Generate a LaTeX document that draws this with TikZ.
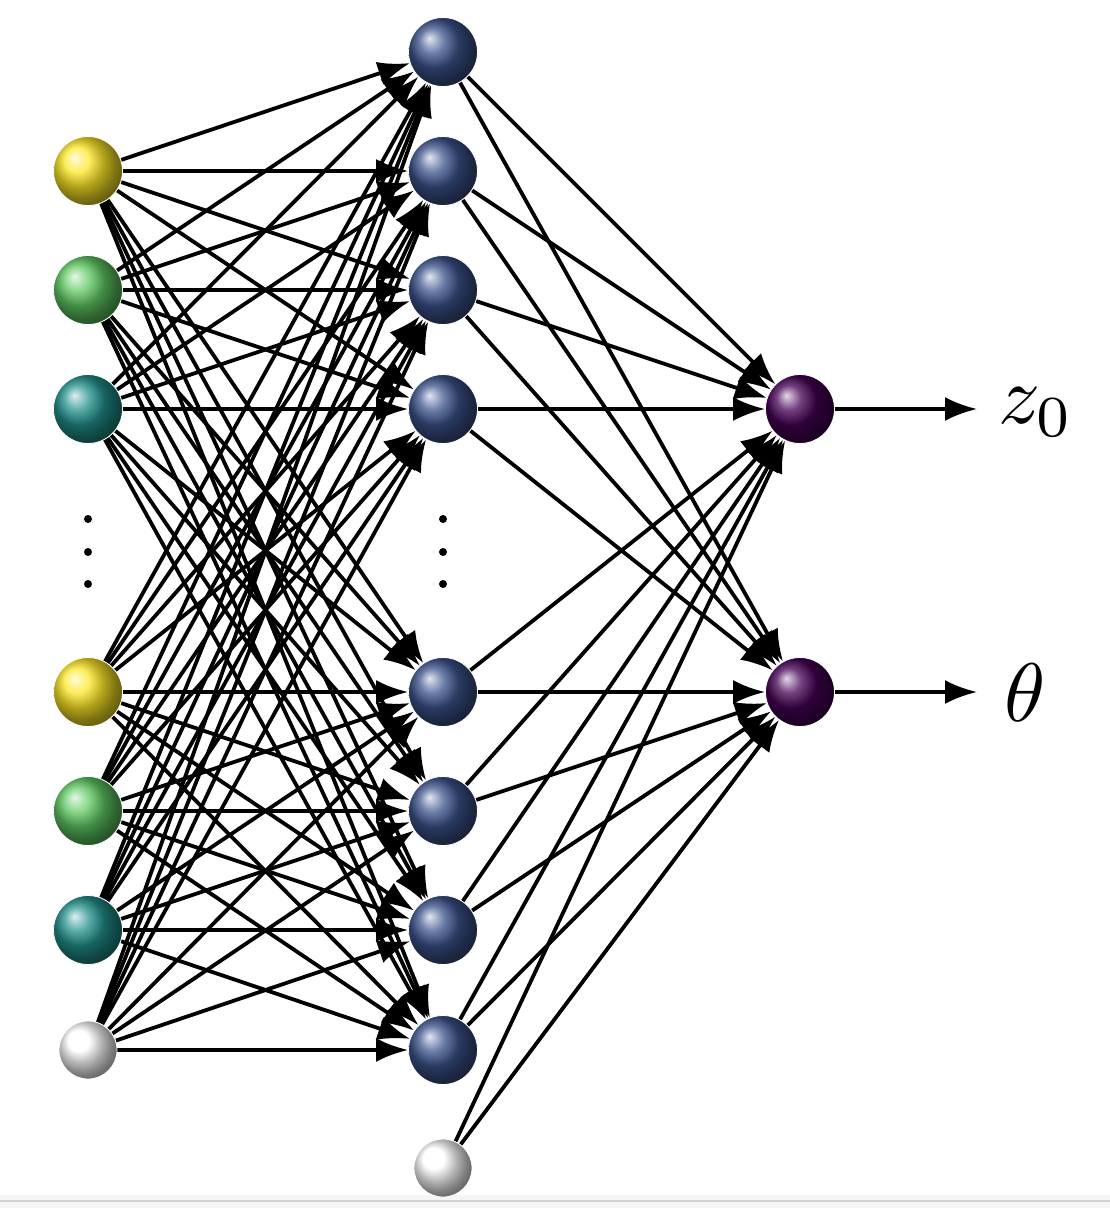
\documentclass[tikz,border=0pt]{standalone}
\usetikzlibrary{arrows.meta,shadings}
\pgfdeclarelayer{background}
\pgfsetlayers{background,main}
\definecolor{vyellow}{HTML}{FDE725}
\definecolor{vgreen}{HTML}{5EC962}
\definecolor{vteal}{HTML}{21918C}
\definecolor{vnavy}{HTML}{3B528B}
\definecolor{vpurple}{HTML}{440154}
\tikzset{
  neuron/.style={circle, minimum size=69pt, inner sep=0pt, draw=white, line width=0.8pt},
  biasnode/.style={circle, minimum size=58pt, inner sep=0pt, draw=white, line width=0.8pt, ball color=white},
  conn/.style={line width=3.8pt, -{Latex[length=32pt,width=24pt]}},
  outarrow/.style={line width=3.6pt, -{Latex[length=32pt,width=24pt]}},
  vdot/.style={circle, fill=black, minimum size=8pt, inner sep=0pt},
  lab/.style={scale=8.3, inner sep=0pt}
}
\begin{document}
\begin{tikzpicture}[x=1pt,y=-1pt]
\useasboundingbox (0,0) rectangle (1110,1208);
\fill[gray!8] (0,1195) rectangle (1110,1208);
\draw[gray!35, line width=1.5pt] (0,1201) -- (1110,1201);
% input layer
\node[neuron, ball color=vyellow] (in1) at (88,171) {};
\node[neuron, ball color=vgreen]  (in2) at (88,290) {};
\node[neuron, ball color=vteal]   (in3) at (88,409) {};
\node[neuron, ball color=vyellow] (in4) at (88,692) {};
\node[neuron, ball color=vgreen]  (in5) at (88,811) {};
\node[neuron, ball color=vteal]   (in6) at (88,930) {};
\node[biasnode] (in7) at (88,1050) {};
\node[vdot] (id1) at (88,519) {};
\node[vdot] (id2) at (88,552) {};
\node[vdot] (id3) at (88,584) {};
% hidden layer
\foreach \n/\y in {1/52,2/171,3/290,4/409,5/692,6/811,7/930,8/1050}
  \node[neuron, ball color=vnavy] (h\n) at (443,\y) {};
\node[biasnode] (hb) at (443,1168) {};
\node[vdot] (hd1) at (443,519) {};
\node[vdot] (hd2) at (443,552) {};
\node[vdot] (hd3) at (443,584) {};
% output layer
\node[neuron, ball color=vpurple] (o1) at (800,409) {};
\node[neuron, ball color=vpurple] (o2) at (800,692) {};
\coordinate (e1) at (977,409);
\coordinate (e2) at (977,692);
\node[lab] (l1) at (1036,412) {$z_0$};
\node[lab] (l2) at (1025,693) {$\theta$};
\begin{pgfonlayer}{background}
\foreach \i in {1,...,7}
  \foreach \j in {1,...,8}
    \draw[conn] (in\i) -- (h\j);
\foreach \j in {1,...,8}
  \foreach \k in {1,2}
    \draw[conn] (h\j) -- (o\k);
\foreach \k in {1,2}
  \draw[conn] (hb) -- (o\k);
\end{pgfonlayer}
\draw[outarrow] (o1) -- (e1);
\draw[outarrow] (o2) -- (e2);
\end{tikzpicture}
\end{document}
